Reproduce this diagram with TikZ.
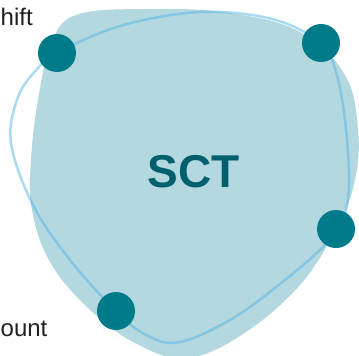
\documentclass[tikz,border=0pt]{standalone}
\usepackage{fontspec}
\setmainfont{Liberation Sans}
\definecolor{blobc}{HTML}{B4D8DF}
\definecolor{ringc}{HTML}{55B5E6}
\definecolor{dotc}{HTML}{007B8A}
\definecolor{titlec}{HTML}{005F6C}
\definecolor{labc}{HTML}{231F20}
\begin{document}
\begin{tikzpicture}[x=1pt,y=-1pt,
  dotnode/.style={circle,fill=dotc,minimum size=38pt,inner sep=0pt},
  labnode/.style={inner sep=0pt,text=labc,font=\fontsize{24}{28}\selectfont},
  ringline/.style={draw=ringc,draw opacity=0.5,line width=2.5pt}]
\useasboundingbox (0,0) rectangle (359,356);
% blob
\fill[blobc] plot[smooth cycle,tension=0.65] coordinates {
 (76,15) (150,9) (230,13) (300,32) (345,75) (358,130) (355,180) (338,225)
 (300,285) (240,336) (185,358) (135,343) (88,308) (50,262) (32,210)
 (31,160) (38,100) (51,45)};
% ring
\coordinate (r1) at (57,53);
\coordinate (r2) at (321,43);
\coordinate (r3) at (336,229);
\coordinate (r4) at (116,311);
\draw[ringline] plot[smooth cycle,tension=0.6] coordinates {
 (r1) (120,26) (200,12) (272,19) (r2) (336,72) (345,120) (349,176) (346,210)
 (r3) (322,248) (280,284) (230,320) (180,342) (148,336) (r4) (70,260)
 (33,205) (11,143) (18,97) (38,68)};
% dots
\node[dotnode] (d1) at (r1) {};
\node[dotnode] (d2) at (r2) {};
\node[dotnode] (d3) at (r3) {};
\node[dotnode] (d4) at (r4) {};
% texts
\node[inner sep=0pt,anchor=base,text=titlec,font=\fontsize{46}{50}\selectfont\bfseries] (t) at (193.5,187) {SCT};
\node[labnode,anchor=base west] (l1) at (0.5,25.5) {hift};
\node[labnode,anchor=base west] (l2) at (0.5,336) {ount};
\end{tikzpicture}
\end{document}
